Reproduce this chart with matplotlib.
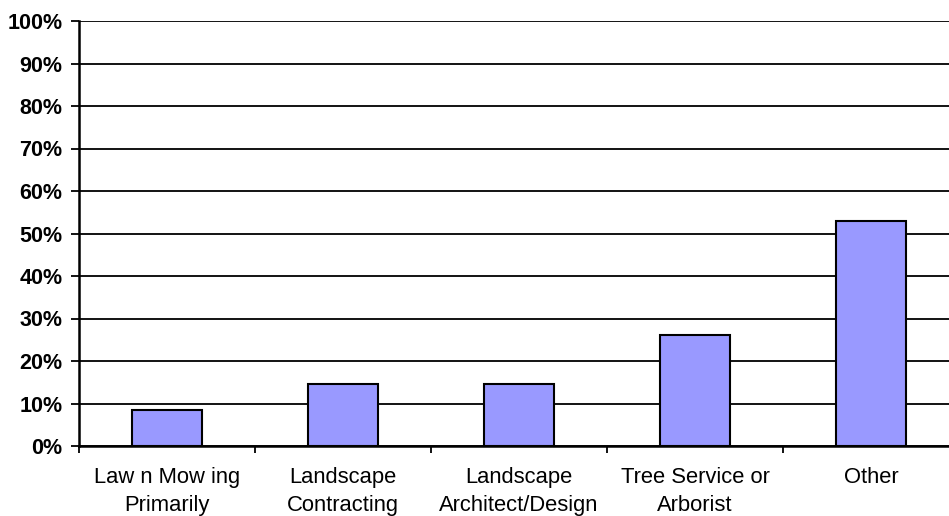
import matplotlib
matplotlib.use("Agg")
import matplotlib.pyplot as plt
import numpy as np

categories = ["Law n Mow ing\nPrimarily", "Landscape\nContracting", "Landscape\nArchitect/Design",
              "Tree Service or\nArborist", "Other"]
values = [8.5, 14.5, 14.5, 26.1, 52.9]
yticks = [0, 10, 20, 30, 40, 50, 60, 70, 80, 90, 100]
ytick_labels = [f"{v}%" for v in yticks]

plt.rcParams['font.family'] = ['Liberation Sans', 'DejaVu Sans']

W, H = 949, 516
fig = plt.figure(figsize=(W / 100, H / 100), dpi=100)
left, right = 79 / W, 959 / W
bottom, top = (H - 446) / H, (H - 21) / H
ax = fig.add_axes([left, bottom, right - left, top - bottom])

x = np.arange(len(categories))
ax.bar(x, values, width=0.4, color="#9999FF", edgecolor="black", linewidth=1.5, zorder=3)

ax.set_xlim(-0.5, len(categories) - 0.5)
ax.set_ylim(0, 100)
ax.set_yticks(yticks)
ax.set_yticklabels(ytick_labels, fontsize=15.5, fontweight="bold")
ax.yaxis.grid(True, color="black", linewidth=1.3, zorder=0)
ax.set_axisbelow(True)

ax.set_xticks(x)
ax.set_xticklabels(categories, fontsize=15.8, linespacing=1.45)
ax.tick_params(axis="x", which="major", length=0, pad=15)
ax.set_xticks(np.arange(len(categories) + 1) - 0.5, minor=True)
ax.tick_params(axis="x", which="minor", length=5, width=1.3, direction="out")
ax.tick_params(axis="y", length=6, width=1.3, direction="out", pad=6)

for s in ["top", "right"]:
    ax.spines[s].set_visible(False)
ax.spines["left"].set_linewidth(1.8)
ax.spines["bottom"].set_linewidth(1.8)

fig.savefig("out.png", dpi=100)
